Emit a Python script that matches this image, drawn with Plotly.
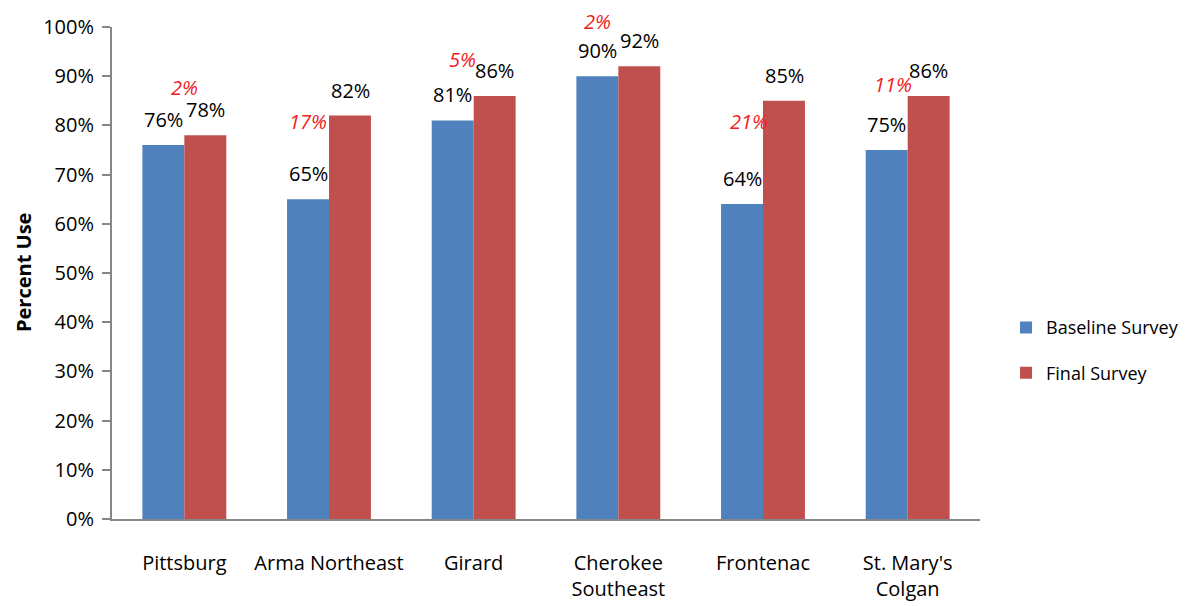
import plotly.graph_objects as go

categories = ["Pittsburg", "Arma Northeast", "Girard", "Cherokee<br>Southeast", "Frontenac", "St. Mary's<br>Colgan"]
baseline = [76, 65, 81, 90, 64, 75]
final = [78, 82, 86, 92, 85, 86]
y_ticks = [0, 10, 20, 30, 40, 50, 60, 70, 80, 90, 100]

# placement of the red change labels (style, % of axis height / px)
diff_label_y = [87.8, 80.7, 93.3, 101.2, 80.7, 88.4]
diff_label_dx = [0, -21, -11, -21, -14, -15]

FONT = "Open Sans, sans-serif"
BLUE = "#4F81BD"
RED = "#C0504D"

fig = go.Figure()
fig.add_trace(go.Bar(x=categories, y=baseline, name="Baseline Survey", marker_color=BLUE,
                     marker_line_width=0, legendgroup="a"))
fig.add_trace(go.Bar(x=categories, y=final, name="Final Survey", marker_color=RED,
                     marker_line_width=0, legendgroup="b"))

ann = []
for c, b, f in zip(categories, baseline, final):
    ann.append(dict(x=c, y=b, xref="x", yref="y", text=f"{b}%", showarrow=False,
                    xshift=-21, yshift=10, yanchor="bottom",
                    font=dict(family=FONT, size=20, color="#000")))
    ann.append(dict(x=c, y=f, xref="x", yref="y", text=f"{f}%", showarrow=False,
                    xshift=21, yshift=10, yanchor="bottom",
                    font=dict(family=FONT, size=20, color="#000")))
for c, b, f, yy, dx in zip(categories, baseline, final, diff_label_y, diff_label_dx):
    ann.append(dict(x=c, y=yy / 100, xref="x", yref="paper", text=f"<i>{f - b}%</i>", showarrow=False,
                    xshift=dx, yanchor="middle", borderpad=0,
                    font=dict(family=FONT, size=20, color="#F02020")))
# y-axis title
ann.append(dict(x=-0.1025, y=0.5, xref="paper", yref="paper", text="<b>Percent Use</b>",
                textangle=-90, showarrow=False, xanchor="center", yanchor="middle", borderpad=0,
                font=dict(family=FONT, size=20, color="#000")))

fig.update_layout(
    width=1182, height=598,
    margin=dict(l=104, r=210, t=19, b=87, autoexpand=False),
    paper_bgcolor="white", plot_bgcolor="white",
    barmode="group", bargap=0.42, bargroupgap=0,
    font=dict(family=FONT, size=20, color="#000"),
    showlegend=True,
    legend=dict(x=1.03, xanchor="left", y=0.343, yanchor="middle",
                font=dict(family=FONT, size=18, color="#000"),
                tracegroupgap=19, bgcolor="rgba(0,0,0,0)"),
    annotations=ann,
)
fig.update_yaxes(range=[0, 100], tickvals=y_ticks, ticktext=[f"{v}%" for v in y_ticks],
                 showgrid=False, zeroline=False, showline=True, linecolor="#868686", linewidth=2,
                 ticks="outside", ticklen=8, tickcolor="#868686", tickwidth=2,
                 ticklabelstandoff=4, automargin=False)
fig.update_xaxes(showgrid=False, showline=True, linecolor="#868686", linewidth=2,
                 ticks="", ticklabelstandoff=25, tickfont=dict(size=20), automargin=False)

fig.write_html("out.html")
